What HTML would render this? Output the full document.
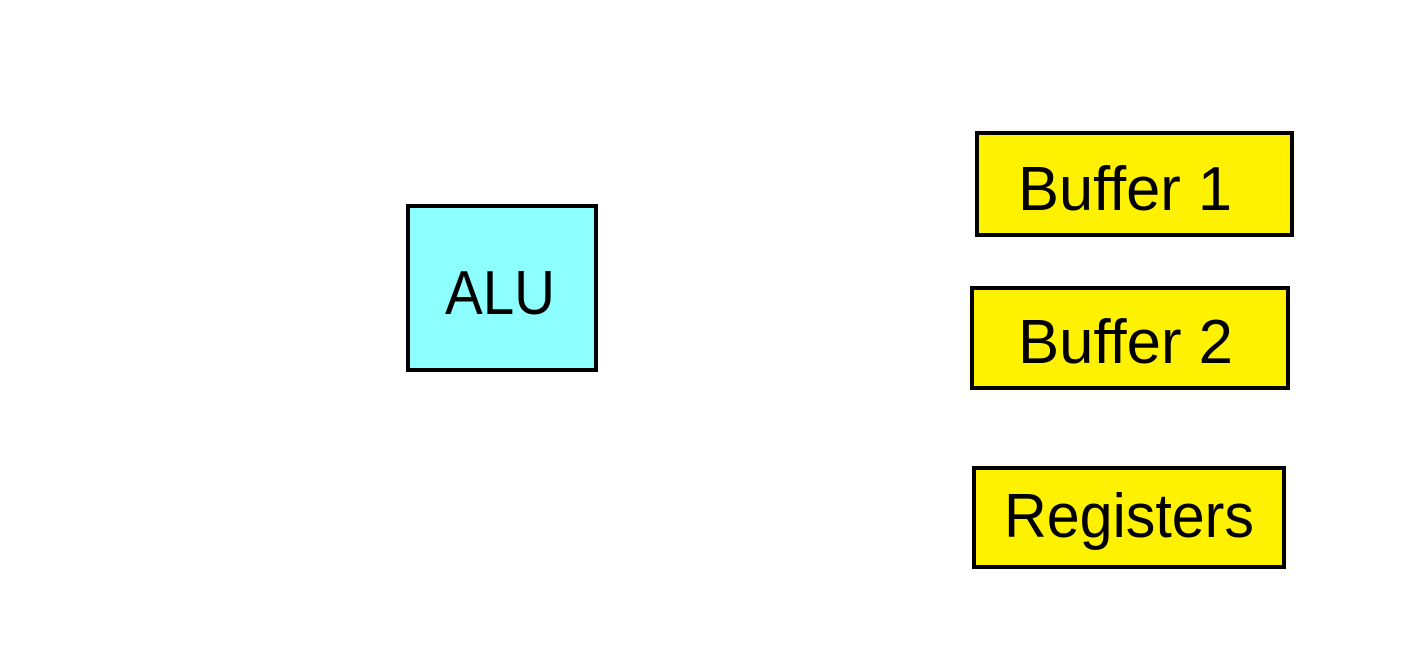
<!DOCTYPE html>
<html><head><style>html,body{margin:0;padding:0;background:#fff;}svg{display:block}</style></head>
<body>
<svg width="1416" height="672" xmlns="http://www.w3.org/2000/svg" font-family="'Liberation Sans', sans-serif" font-size="62">
<rect x="408" y="206" width="188" height="164" fill="#8effff" stroke="#000" stroke-width="4"/>
<text x="445" y="314" textLength="110" lengthAdjust="spacingAndGlyphs">ALU</text>
<rect x="977" y="133" width="315" height="102" fill="#fff200" stroke="#000" stroke-width="4"/>
<text x="1018" y="210" textLength="214" lengthAdjust="spacingAndGlyphs">Buffer 1</text>
<rect x="972" y="288" width="316" height="100" fill="#fff200" stroke="#000" stroke-width="4"/>
<text x="1018" y="363" textLength="215" lengthAdjust="spacingAndGlyphs">Buffer 2</text>
<rect x="974" y="468" width="310" height="99" fill="#fff200" stroke="#000" stroke-width="4"/>
<text x="1004" y="537" textLength="250" lengthAdjust="spacingAndGlyphs">Registers</text>
</svg>
</body></html>
